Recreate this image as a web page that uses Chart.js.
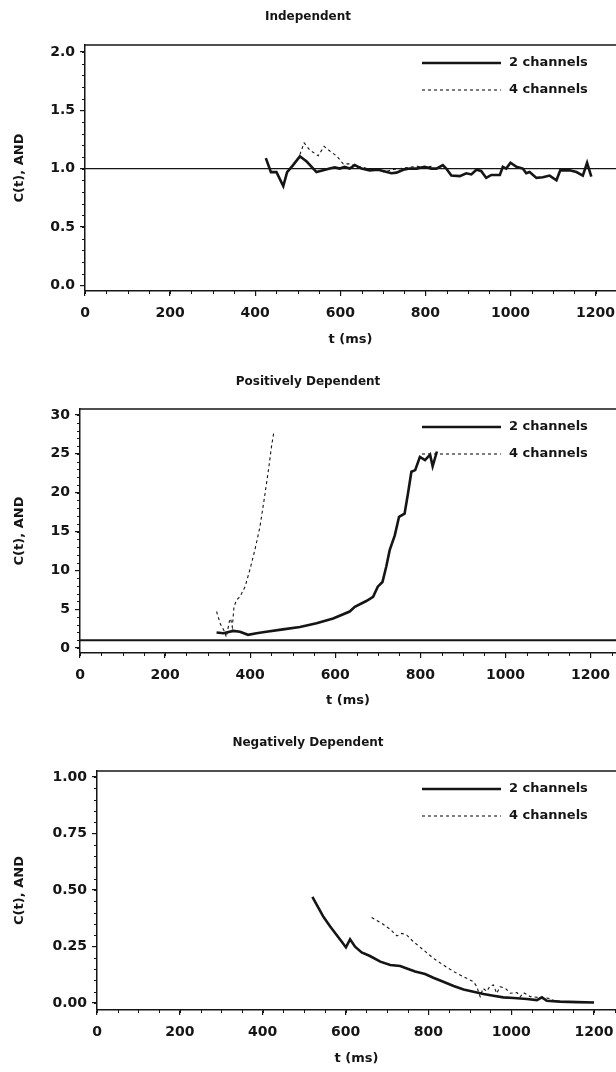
<!DOCTYPE html>
<html>
<head>
<meta charset="utf-8">
<script src="https://cdn.jsdelivr.net/npm/chart.js@4.4.1/dist/chart.umd.min.js"></script>
<style>
  body { margin: 0; background: #fff; }
  canvas { display: block; }
</style>
</head>
<body>
<canvas id="chartIndep" width="616" height="357"></canvas>
<canvas id="chartPos" width="616" height="357"></canvas>
<canvas id="chartNeg" width="616" height="358"></canvas>
<script>
// Series labels and panel titles
const seriesLabels = ['2 channels', '4 channels'];
const panelTitles = ['Independent', 'Positively Dependent', 'Negatively Dependent'];

// Shared x ticks (ms)
const timeTicks = [0, 200, 400, 600, 800, 1000, 1200];

// Independent panel
const indepT2 = [425,437,450,466,475,489,505,521,544,560,575,587,599,610,622,634,650,669,689,705,720,732,748,763,779,798,814,826,841,849,861,881,896,908,920,931,943,955,975,982,990,1000,1014,1029,1037,1045,1061,1076,1092,1108,1117,1139,1155,1170,1180,1190];
const indepC2 = [1.09,0.97,0.97,0.85,0.97,1.03,1.105,1.06,0.97,0.985,1.0,1.01,1.0,1.015,1.0,1.03,1.0,0.985,0.99,0.975,0.96,0.965,0.99,1.0,1.0,1.015,1.0,1.0,1.03,1.0,0.94,0.935,0.96,0.95,0.99,0.98,0.92,0.945,0.945,1.015,1.0,1.05,1.015,1.0,0.96,0.97,0.92,0.925,0.94,0.9,0.985,0.985,0.97,0.94,1.05,0.93];
const indepT4 = [505,515,528,548,562,579,591,607,622,638,655,672,690,705,720,740,760,780,800,815];
const indepC4 = [1.12,1.22,1.16,1.11,1.19,1.14,1.11,1.04,1.04,1.02,1.01,0.99,0.985,0.97,0.99,1.0,1.01,1.02,1.01,1.02];
const indepYTicks = [0, 0.5, 1.0, 1.5, 2.0];

// Positively dependent panel
const posT2 = [321,337,360,376,395,415,438,477,517,556,595,634,646,673,689,700,711,720,728,740,750,763,771,779,788,799,811,823,829,839];
const posC2 = [2.0,1.9,2.2,2.1,1.7,1.9,2.1,2.4,2.7,3.2,3.8,4.7,5.3,6.05,6.6,7.9,8.5,10.5,12.6,14.5,16.9,17.3,19.9,22.7,22.9,24.6,24.2,24.9,23.4,25.3];
const posT4 = [321,330,340,344,351,354,358,362,368,376,388,399,411,423,434,444,450,456];
const posC4 = [4.7,3.1,2.1,1.4,3.4,3.8,2.7,5.3,6.2,6.6,7.9,10.0,12.6,15.6,19.5,23.3,25.9,27.9];
const posYTicks = [0, 5, 10, 15, 20, 25, 30];

// Negatively dependent panel
const negT2 = [520,535,547,563,579,591,601,611,623,639,659,684,708,732,748,768,792,812,836,861,885,909,933,957,981,1006,1038,1062,1074,1086,1118,1159,1200];
const negC2 = [0.47,0.42,0.38,0.338,0.30,0.271,0.246,0.282,0.249,0.224,0.208,0.183,0.168,0.164,0.153,0.139,0.128,0.112,0.094,0.075,0.060,0.050,0.040,0.032,0.025,0.022,0.018,0.013,0.025,0.010,0.006,0.004,0.002];
const negT4 = [663,688,708,724,736,748,764,788,812,836,861,885,909,917,925,932,941,949,957,965,973,986,998,1014,1022,1030,1046,1070,1090,1102];
const negC4 = [0.378,0.352,0.326,0.297,0.308,0.30,0.271,0.235,0.198,0.168,0.139,0.116,0.094,0.072,0.028,0.065,0.052,0.075,0.080,0.043,0.072,0.065,0.043,0.046,0.028,0.046,0.028,0.024,0.021,0.012];
const negYTicks = [0, 0.25, 0.5, 0.75, 1.0];

// Reference level C(t) = 1
const refLevel = 1;

const ink = '#151515';
const fontFamily = '"DejaVu Sans", "Liberation Sans", sans-serif';

function toPoints(xs, ys) {
    return xs.map((x, i) => ({ x: x, y: ys[i] }));
}

// Top border, minor ticks and the in-plot legend
const panelExtras = {
    id: 'panelExtras',
    afterDraw(chart, args, opts) {
        const { ctx, chartArea: a, scales: { x, y } } = chart;
        ctx.save();
        ctx.strokeStyle = ink;
        ctx.lineWidth = 1.5;
        ctx.beginPath();
        ctx.moveTo(a.left, a.top);
        ctx.lineTo(a.right, a.top);
        ctx.stroke();

        // minor ticks
        ctx.lineWidth = 1;
        ctx.beginPath();
        for (let v = 0; v <= x.max; v += opts.xMinor) {
            const px = Math.round(x.getPixelForValue(v)) + 0.5;
            ctx.moveTo(px, a.bottom);
            ctx.lineTo(px, a.bottom + 3);
        }
        for (let i = 0; i * opts.yMinor <= y.max + 1e-9; i++) {
            const py = Math.round(y.getPixelForValue(i * opts.yMinor)) + 0.5;
            ctx.moveTo(a.left - 3, py);
            ctx.lineTo(a.left, py);
        }
        ctx.stroke();

        // legend
        ctx.font = 'bold 13px ' + fontFamily;
        ctx.fillStyle = ink;
        ctx.textBaseline = 'middle';
        opts.rows.forEach((dy, i) => {
            const ds = chart.data.datasets[i];
            const ly = a.top + dy;
            ctx.save();
            ctx.lineWidth = ds.borderWidth;
            ctx.setLineDash(ds.borderDash || []);
            ctx.beginPath();
            ctx.moveTo(opts.lineX0, ly);
            ctx.lineTo(opts.lineX1, ly);
            ctx.stroke();
            ctx.restore();
            ctx.fillText(ds.label, opts.textX, ly);
        });
        ctx.restore();
    }
};

function makePanel(canvasId, p) {
    const tickFont = { family: fontFamily, weight: 'bold', size: 14 };
    const titleFont = { family: fontFamily, weight: 'bold', size: 13 };
    return new Chart(document.getElementById(canvasId), {
        type: 'line',
        data: {
            datasets: [
                {
                    label: seriesLabels[0],
                    data: toPoints(p.t2, p.c2),
                    borderColor: ink,
                    borderWidth: 2.6,
                    pointRadius: 0
                },
                {
                    label: seriesLabels[1],
                    data: toPoints(p.t4, p.c4),
                    borderColor: ink,
                    borderWidth: 1.1,
                    borderDash: [3, 3],
                    pointRadius: 0
                },
                {
                    label: 'reference',
                    data: [{ x: 0, y: refLevel }, { x: p.xMax, y: refLevel }],
                    borderColor: ink,
                    borderWidth: p.refWidth,
                    pointRadius: 0,
                    hidden: !p.showRef
                }
            ]
        },
        options: {
            responsive: false,
            animation: false,
            devicePixelRatio: 1,
            layout: { padding: 0 },
            plugins: {
                legend: { display: false },
                tooltip: { enabled: false },
                title: {
                    display: true,
                    text: p.title,
                    color: ink,
                    font: { family: fontFamily, weight: 'bold', size: 12 },
                    padding: { top: p.titleTop, bottom: p.titleBottom }
                },
                panelExtras: {
                    xMinor: 50,
                    yMinor: p.yMinor,
                    rows: [18, 45],
                    lineX0: 422,
                    lineX1: 501,
                    textX: 509
                }
            },
            scales: {
                x: {
                    type: 'linear',
                    min: 0,
                    max: p.xMax,
                    afterBuildTicks: (s) => { s.ticks = timeTicks.map(v => ({ value: v })); },
                    afterFit: (s) => { s.height = p.xHeight; s.paddingLeft = 0; s.paddingRight = 0; },
                    border: { display: true, color: ink, width: 1.5 },
                    grid: { drawOnChartArea: false, color: ink, tickLength: 5, lineWidth: 1.2 },
                    ticks: {
                        color: ink,
                        font: tickFont,
                        padding: 9,
                        maxRotation: 0,
                        callback: (v) => String(v)
                    },
                    title: {
                        display: true,
                        text: 't (ms)',
                        color: ink,
                        font: titleFont,
                        padding: { top: 0, bottom: p.xTitleBottom }
                    }
                },
                y: {
                    min: p.yMin,
                    max: p.yMax,
                    afterBuildTicks: (s) => { s.ticks = p.yTicks.map(v => ({ value: v })); },
                    afterFit: (s) => { s.width = p.yWidth; s.paddingTop = 0; s.paddingBottom = 0; },
                    border: { display: true, color: ink, width: 1.5 },
                    grid: { drawOnChartArea: false, color: ink, tickLength: 5, lineWidth: 1.2 },
                    ticks: {
                        color: ink,
                        font: tickFont,
                        padding: 5,
                        callback: (v) => v.toFixed(p.decimals)
                    },
                    title: {
                        display: true,
                        text: 'C(t), AND',
                        color: ink,
                        font: titleFont,
                        padding: { top: 12, bottom: 0 }
                    }
                }
            }
        },
        plugins: [panelExtras]
    });
}

makePanel('chartIndep', {
    title: panelTitles[0],
    t2: indepT2, c2: indepC2, t4: indepT4, c4: indepC4,
    yTicks: indepYTicks, decimals: 1, yMinor: 0.1,
    xMax: 1248, yMin: -0.05, yMax: 2.06,
    yWidth: 85, xHeight: 66, titleTop: 9.8, titleBottom: 20.8, xTitleBottom: 10,
    showRef: true, refWidth: 1.3
});

makePanel('chartPos', {
    title: panelTitles[1],
    t2: posT2, c2: posC2, t4: posT4, c4: posC4,
    yTicks: posYTicks, decimals: 0, yMinor: 1,
    xMax: 1260, yMin: -0.64, yMax: 30.77,
    yWidth: 80, xHeight: 61, titleTop: 17.8, titleBottom: 19.8, xTitleBottom: 6,
    showRef: true, refWidth: 2
});

makePanel('chartNeg', {
    title: panelTitles[2],
    t2: negT2, c2: negC2, t4: negT4, c4: negC4,
    yTicks: negYTicks, decimals: 2, yMinor: 0.05,
    xMax: 1253, yMin: -0.031, yMax: 1.0265,
    yWidth: 97, xHeight: 62, titleTop: 21.8, titleBottom: 20.8, xTitleBottom: 6,
    showRef: false, refWidth: 1
});
</script>
</body>
</html>
